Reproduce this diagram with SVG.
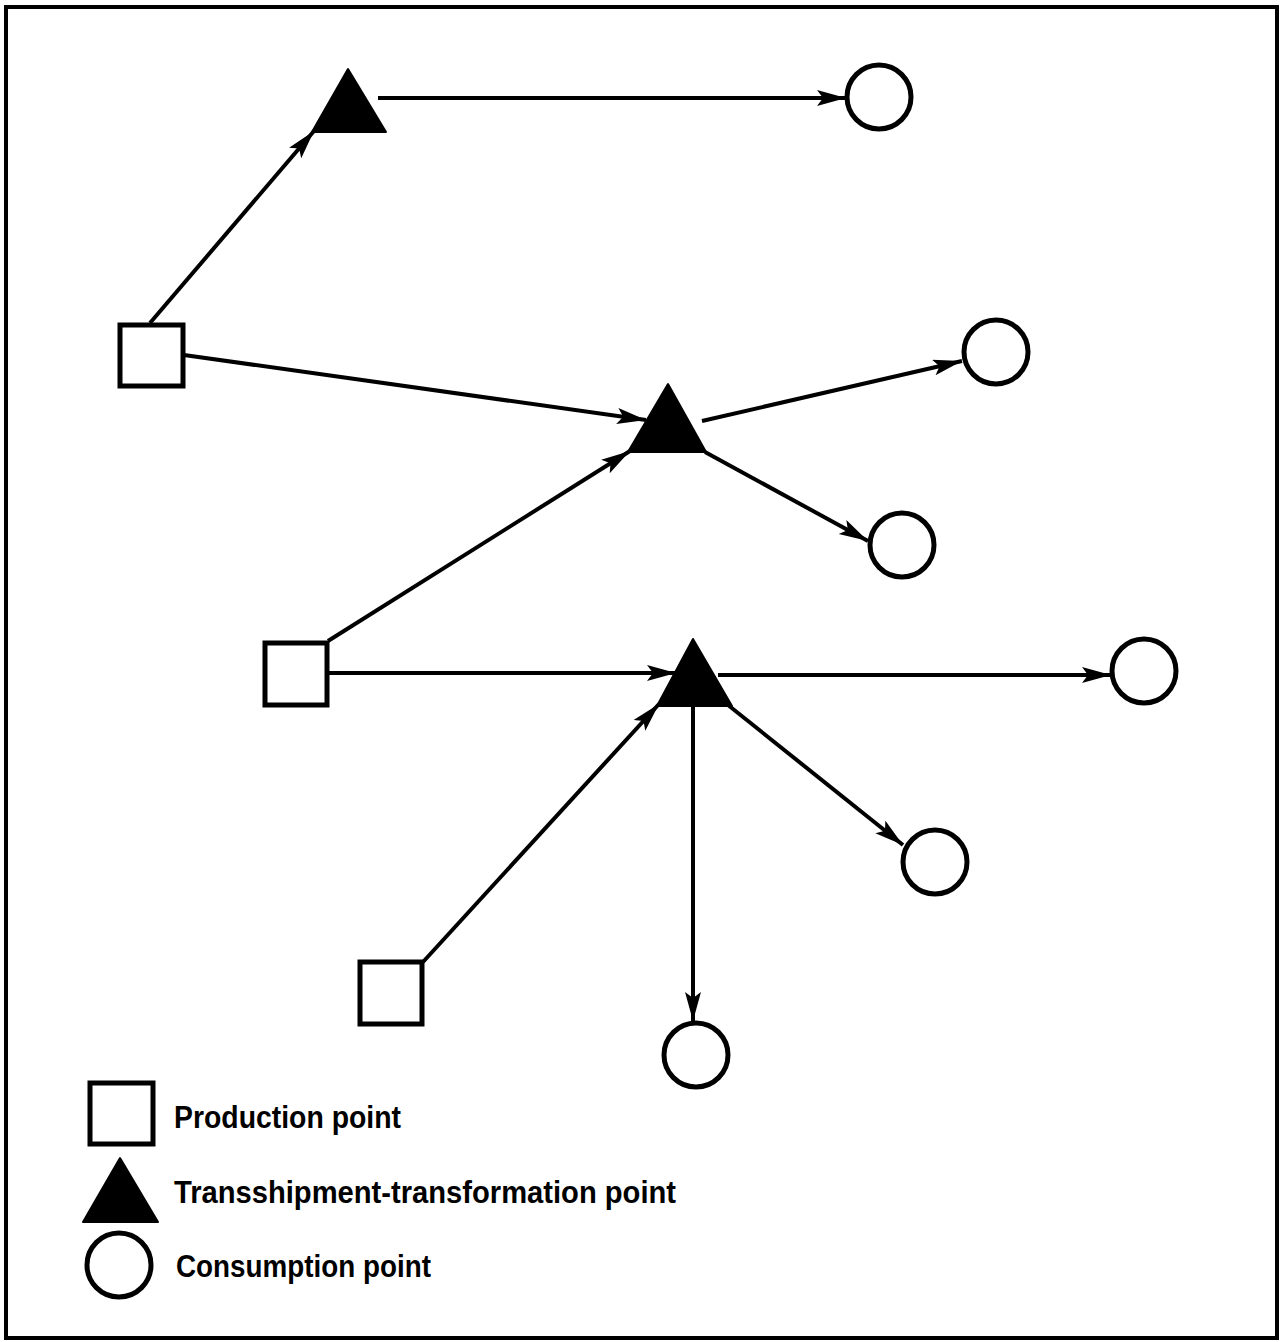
<svg xmlns="http://www.w3.org/2000/svg" width="1282" height="1342" viewBox="0 0 1282 1342">
<style>
.box{fill:#fff;stroke:#000;stroke-width:5}
.tri{fill:#000;stroke:#000;stroke-width:2;stroke-linejoin:round}
.cir{fill:#fff;stroke:#000;stroke-width:5}
.edge{fill:none;stroke:#000;stroke-width:4;marker-end:url(#ah)}
.lbl{font-family:"Liberation Sans",Arial,sans-serif;font-weight:bold;font-size:32px;fill:#000}
</style>
<defs>
<marker id="ah" markerUnits="userSpaceOnUse" markerWidth="32" markerHeight="18" refX="29" refY="8" orient="auto" viewBox="0 0 32 18">
<path d="M0,0 L29,8 L0,16 L6,8 z" fill="#000"/>
</marker>
</defs>
<rect x="0" y="0" width="1282" height="1342" fill="#fff"/>
<rect x="6" y="7" width="1271" height="1331" fill="none" stroke="#000" stroke-width="4"/>
<g id="connectors">
<line class="edge" x1="150" y1="323" x2="314" y2="131"/>
<line class="edge" x1="378" y1="98" x2="846" y2="98"/>
<line class="edge" x1="184" y1="355" x2="646" y2="420"/>
<line class="edge" x1="328" y1="641" x2="630" y2="451"/>
<line class="edge" x1="702" y1="421" x2="962" y2="361"/>
<line class="edge" x1="705" y1="452" x2="868" y2="541"/>
<line class="edge" x1="328" y1="673" x2="676" y2="673"/>
<line class="edge" x1="423" y1="962" x2="659" y2="704"/>
<line class="edge" x1="718" y1="675" x2="1111" y2="675"/>
<line class="edge" x1="728" y1="705" x2="903" y2="845"/>
<line class="edge" x1="693" y1="707" x2="693" y2="1021"/>
</g>
<g id="S1"><rect class="box" x="120" y="325" width="63" height="61"/></g>
<g id="S2"><rect class="box" x="265" y="643" width="62" height="62"/></g>
<g id="S3"><rect class="box" x="360" y="962" width="62" height="62"/></g>
<g id="T1"><polygon class="tri" points="348,69 386,132 312,132"/></g>
<g id="T2"><polygon class="tri" points="668,384 706,452 628,452"/></g>
<g id="T3"><polygon class="tri" points="693,639 732,706 657,706"/></g>
<g id="C1"><circle class="cir" cx="879" cy="97" r="32"/></g>
<g id="C2"><circle class="cir" cx="996" cy="352" r="32"/></g>
<g id="C3"><circle class="cir" cx="902" cy="545" r="32"/></g>
<g id="C4"><circle class="cir" cx="1144" cy="671" r="32"/></g>
<g id="C5"><circle class="cir" cx="935" cy="862" r="32"/></g>
<g id="C6"><circle class="cir" cx="696" cy="1055" r="32"/></g>
<g id="legend">
<g id="legend-production"><rect class="box" x="90" y="1083" width="63" height="61"/>
<text class="lbl" x="174" y="1128" textLength="227" lengthAdjust="spacingAndGlyphs">Production point</text></g>
<g id="legend-transshipment"><polygon class="tri" points="120,1158 158,1222 83,1222"/>
<text class="lbl" x="174" y="1203" textLength="502" lengthAdjust="spacingAndGlyphs">Transshipment-transformation point</text></g>
<g id="legend-consumption"><circle class="cir" cx="119" cy="1265" r="32"/>
<text class="lbl" x="176" y="1277" textLength="255" lengthAdjust="spacingAndGlyphs">Consumption point</text></g>
</g>
</svg>
